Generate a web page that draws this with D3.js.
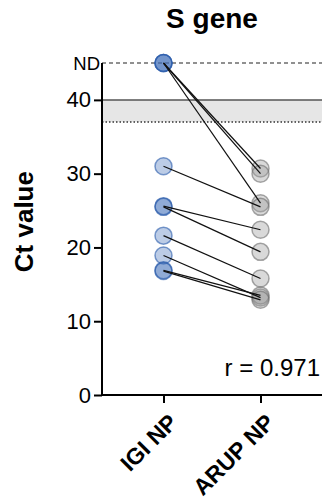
<!DOCTYPE html>
<html>
<head>
<script src="https://cdn.jsdelivr.net/npm/d3@7"></script>
<style>
  body {margin: 0; background: #fff;}
  text {font-family: "Liberation Sans", Arial, sans-serif;}
</style>
</head>
<body>
<div id="chart"></div>
<script>
// categories and paired Ct values (ND = not detected, plotted at 45)
const groups = ['IGI NP', 'ARUP NP'];
const igi  = [45, 45, 45, 31.0, 25.6, 25.5, 21.6, 18.9, 16.9, 16.8];
const arup = [30.7, 30.0, 26.0, 25.5, 22.4, 19.4, 15.8, 13.2, 13.5, 12.9];
const yTicks = [0, 10, 20, 30, 40];
const ndValue = 45;
const lodLow = 37, lodHigh = 40;
const rText = 'r = 0.971';

const w = 324, h = 504;
const svg = d3.select('#chart').append('svg')
    .attr('width', w).attr('height', h);

const x = d3.scalePoint().domain(groups).range([102, 322]).padding(0.634);
const y = d3.scaleLinear().domain([0, 45]).range([395, 63]);

// limit of detection band
svg.append('rect')
    .attr('x', 102).attr('width', 220)
    .attr('y', y(lodHigh)).attr('height', y(lodLow) - y(lodHigh))
    .attr('fill', '#e6e6e6');
svg.append('line')
    .attr('x1', 102).attr('x2', 322).attr('y1', y(lodHigh)).attr('y2', y(lodHigh))
    .attr('stroke', '#555').attr('stroke-width', 1.5);
svg.append('line')
    .attr('x1', 102).attr('x2', 322).attr('y1', y(lodLow)).attr('y2', y(lodLow))
    .attr('stroke', '#333').attr('stroke-width', 1.5).attr('stroke-dasharray', '1.5,2');
svg.append('line')
    .attr('x1', 102).attr('x2', 322).attr('y1', y(ndValue)).attr('y2', y(ndValue))
    .attr('stroke', '#222').attr('stroke-width', 1.2).attr('stroke-dasharray', '4,3');

// axes
const yAxis = svg.append('g')
    .attr('transform', 'translate(102,0)')
    .call(d3.axisLeft(y).tickValues(yTicks).tickSize(8).tickPadding(3).tickSizeOuter(0));
yAxis.select('.domain').attr('d', `M0,${y(ndValue)}V${y(0)}`);
yAxis.selectAll('line, path').attr('stroke', '#000').attr('stroke-width', 2);
yAxis.selectAll('text').attr('font-size', 22).attr('fill', '#000')
    .style('font-family', '"Liberation Sans", Arial, sans-serif');

svg.append('text')
    .attr('x', 100).attr('y', y(ndValue) + 6.5)
    .attr('text-anchor', 'end').attr('font-size', 18.5)
    .text('ND');

const xAxis = svg.append('g')
    .attr('transform', `translate(0,${y(0)})`)
    .call(d3.axisBottom(x).tickSize(8).tickSizeOuter(0));
xAxis.select('.domain').attr('d', 'M101,0H322');
xAxis.selectAll('line, path').attr('stroke', '#000').attr('stroke-width', 2);
xAxis.selectAll('text')
    .attr('font-size', 23).attr('font-weight', 'bold').attr('fill', '#000')
    .style('font-family', '"Liberation Sans", Arial, sans-serif')
    .attr('text-anchor', 'end')
    .attr('dy', null)
    .attr('transform', 'translate(7,21) rotate(-45)');

// points
const pairs = igi.map((v, i) => ({a: v, b: arup[i]}));
const dots = svg.append('g');
dots.selectAll('.l').data(pairs).join('circle')
    .attr('cx', x(groups[0])).attr('cy', d => y(d.a)).attr('r', 8.5)
    .attr('fill', 'rgba(62,110,182,0.35)')
    .attr('stroke', 'rgba(40,90,170,0.6)').attr('stroke-width', 1.5);
dots.selectAll('.r').data(pairs).join('circle')
    .attr('cx', x(groups[1])).attr('cy', d => y(d.b)).attr('r', 8.5)
    .attr('fill', 'rgba(160,160,160,0.4)')
    .attr('stroke', 'rgba(110,110,110,0.6)').attr('stroke-width', 1.5);

svg.append('g').selectAll('line').data(pairs).join('line')
    .attr('x1', x(groups[0])).attr('x2', x(groups[1]))
    .attr('y1', d => y(d.a)).attr('y2', d => y(d.b))
    .attr('stroke', '#111').attr('stroke-width', 1.2);

// labels
svg.append('text')
    .attr('x', 212).attr('y', 28).attr('text-anchor', 'middle')
    .attr('font-size', 28).attr('font-weight', 'bold')
    .text('S gene');

svg.append('text')
    .attr('transform', `translate(33,${y(23.5)}) rotate(-90)`)
    .attr('text-anchor', 'middle')
    .attr('font-size', 26).attr('font-weight', 'bold')
    .text('Ct value');

svg.append('text')
    .attr('x', 320).attr('y', 376).attr('text-anchor', 'end')
    .attr('font-size', 24)
    .text(rText);
</script>
</body>
</html>
